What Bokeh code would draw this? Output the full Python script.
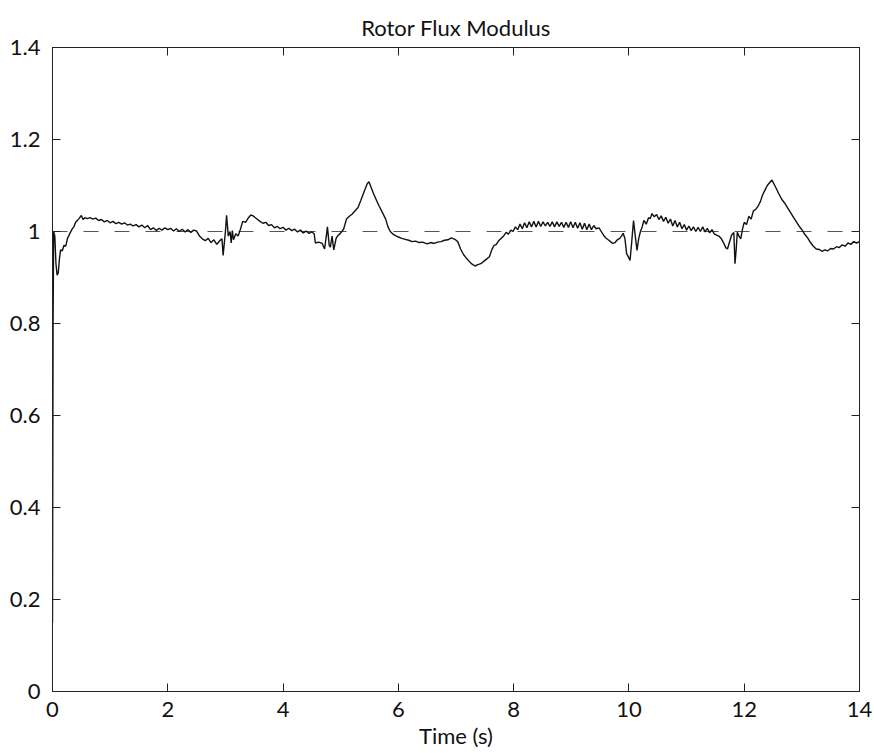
from bokeh.plotting import figure
from bokeh.models import LinearAxis, FixedTicker, Range1d
from bokeh.embed import file_html
from bokeh.resources import INLINE

# ---- data ----
time_s = [
    0.00, 0.01, 0.02, 0.04, 0.06, 0.08, 0.10, 0.12, 0.14, 0.17, 0.20, 0.23, 0.26, 0.28, 0.31, 0.34,
    0.37, 0.40, 0.43, 0.46, 0.50, 0.53, 0.56, 0.60, 0.65, 0.70, 0.75, 0.80, 0.85, 0.90, 0.95, 1.00,
    1.05, 1.10, 1.15, 1.20, 1.25, 1.30, 1.35, 1.40, 1.45, 1.50, 1.55, 1.60, 1.65, 1.70, 1.75, 1.80,
    1.85, 1.90, 1.95, 2.00, 2.05, 2.10, 2.15, 2.20, 2.25, 2.30, 2.35, 2.40, 2.45, 2.50, 2.55, 2.60,
    2.65, 2.70, 2.75, 2.80, 2.85, 2.90, 2.94, 2.96, 3.00, 3.02, 3.05, 3.08, 3.10, 3.12, 3.14, 3.18,
    3.22, 3.26, 3.30, 3.35, 3.40, 3.44, 3.48, 3.52, 3.56, 3.60, 3.65, 3.70, 3.75, 3.80, 3.85, 3.90,
    3.95, 4.00, 4.05, 4.10, 4.15, 4.20, 4.25, 4.30, 4.35, 4.40, 4.45, 4.50, 4.54, 4.56, 4.62, 4.68,
    4.72, 4.75, 4.77, 4.80, 4.82, 4.85, 4.88, 4.92, 4.95, 5.00, 5.05, 5.10, 5.15, 5.20, 5.25, 5.30,
    5.35, 5.40, 5.46, 5.49, 5.53, 5.57, 5.62, 5.66, 5.72, 5.78, 5.82, 5.86, 5.90, 5.95, 6.00, 6.06,
    6.12, 6.18, 6.24, 6.30, 6.36, 6.42, 6.50, 6.56, 6.62, 6.68, 6.74, 6.80, 6.86, 6.92, 6.98, 7.03,
    7.08, 7.13, 7.18, 7.23, 7.28, 7.33, 7.38, 7.43, 7.48, 7.53, 7.58, 7.62, 7.66, 7.70, 7.74, 7.79,
    7.83, 7.87, 7.91, 7.95, 7.99, 8.03, 8.07, 8.11, 8.15, 8.19, 8.23, 8.27, 8.31, 8.35, 8.39, 8.43,
    8.47, 8.51, 8.55, 8.59, 8.63, 8.67, 8.71, 8.75, 8.79, 8.83, 8.87, 8.91, 8.95, 8.99, 9.03, 9.07,
    9.11, 9.15, 9.19, 9.23, 9.27, 9.31, 9.35, 9.39, 9.43, 9.48, 9.52, 9.56, 9.60, 9.64, 9.68, 9.72,
    9.76, 9.80, 9.84, 9.87, 9.90, 9.93, 9.96, 9.99, 10.02, 10.05, 10.08, 10.11, 10.14, 10.17, 10.20, 10.23,
    10.26, 10.30, 10.34, 10.37, 10.40, 10.44, 10.48, 10.52, 10.56, 10.60, 10.64, 10.68, 10.72, 10.76, 10.80, 10.84,
    10.88, 10.92, 10.96, 11.00, 11.04, 11.08, 11.12, 11.16, 11.20, 11.24, 11.28, 11.32, 11.36, 11.40, 11.44, 11.48,
    11.52, 11.56, 11.60, 11.64, 11.68, 11.71, 11.74, 11.78, 11.82, 11.84, 11.86, 11.88, 11.91, 11.94, 11.97, 12.00,
    12.04, 12.08, 12.12, 12.16, 12.20, 12.24, 12.28, 12.32, 12.36, 12.40, 12.44, 12.48, 12.51, 12.55, 12.60, 12.65,
    12.70, 12.75, 12.80, 12.85, 12.90, 12.95, 13.00, 13.05, 13.10, 13.15, 13.20, 13.25, 13.30, 13.35, 13.40, 13.45,
    13.50, 13.55, 13.60, 13.65, 13.70, 13.75, 13.80, 13.85, 13.90, 13.95, 14.00,
]
flux = [
    0.150, 0.800, 1.000, 0.990, 0.930, 0.905, 0.910, 0.940, 0.960, 0.958, 0.970, 0.968, 0.985, 0.990, 0.998, 1.005,
    1.010, 1.020, 1.024, 1.028, 1.035, 1.026, 1.030, 1.028, 1.030, 1.027, 1.029, 1.024, 1.026, 1.021, 1.024, 1.019,
    1.022, 1.017, 1.020, 1.016, 1.019, 1.014, 1.016, 1.012, 1.015, 1.010, 1.014, 1.008, 1.013, 1.004, 1.008, 1.002,
    1.007, 1.003, 1.008, 1.004, 1.007, 1.001, 1.006, 1.000, 1.005, 0.999, 1.004, 0.998, 1.003, 1.001, 0.990, 0.984,
    0.980, 0.985, 0.976, 0.982, 0.972, 0.980, 0.984, 0.948, 1.000, 1.035, 0.990, 1.000, 0.975, 1.002, 0.982, 0.995,
    0.990, 1.005, 1.022, 1.020, 1.030, 1.036, 1.034, 1.030, 1.026, 1.022, 1.018, 1.020, 1.013, 1.015, 1.008, 1.011,
    1.006, 1.009, 1.003, 1.007, 1.002, 1.005, 0.999, 1.003, 0.997, 1.001, 0.996, 0.999, 0.995, 0.975, 0.977, 0.974,
    0.962, 0.990, 1.010, 0.970, 0.966, 0.990, 0.960, 0.985, 0.991, 0.997, 1.005, 1.027, 1.033, 1.038, 1.045, 1.052,
    1.068, 1.085, 1.104, 1.108, 1.095, 1.082, 1.068, 1.057, 1.042, 1.027, 1.010, 1.000, 0.995, 0.991, 0.988, 0.985,
    0.983, 0.981, 0.978, 0.979, 0.976, 0.977, 0.973, 0.976, 0.974, 0.977, 0.978, 0.981, 0.982, 0.986, 0.983, 0.978,
    0.962, 0.950, 0.942, 0.935, 0.929, 0.925, 0.928, 0.930, 0.935, 0.940, 0.945, 0.960, 0.970, 0.972, 0.980, 0.986,
    0.991, 0.998, 0.994, 1.003, 1.000, 1.010, 1.004, 1.016, 1.006, 1.019, 1.008, 1.021, 1.010, 1.022, 1.010, 1.022,
    1.011, 1.021, 1.012, 1.020, 1.011, 1.021, 1.010, 1.021, 1.011, 1.020, 1.009, 1.020, 1.009, 1.021, 1.008, 1.020,
    1.007, 1.019, 1.005, 1.018, 1.004, 1.016, 1.004, 1.013, 1.006, 1.008, 1.000, 0.992, 0.986, 0.982, 0.978, 0.974,
    0.976, 0.982, 0.985, 0.990, 0.996, 0.985, 0.952, 0.945, 0.937, 0.980, 1.024, 0.990, 0.959, 0.985, 1.000, 1.010,
    1.024, 1.016, 1.030, 1.028, 1.039, 1.032, 1.037, 1.026, 1.034, 1.022, 1.031, 1.018, 1.027, 1.012, 1.024, 1.010,
    1.020, 1.006, 1.015, 1.003, 1.012, 1.002, 1.010, 1.000, 1.009, 1.000, 1.010, 0.999, 1.007, 0.997, 1.004, 0.995,
    0.992, 0.990, 0.985, 0.976, 0.965, 0.962, 0.975, 0.992, 0.998, 0.930, 0.960, 0.998, 0.990, 0.984, 1.005, 1.020,
    1.015, 1.033, 1.027, 1.045, 1.048, 1.055, 1.065, 1.080, 1.090, 1.100, 1.106, 1.112, 1.105, 1.095, 1.082, 1.070,
    1.062, 1.052, 1.042, 1.032, 1.022, 1.012, 1.004, 0.994, 0.986, 0.976, 0.968, 0.962, 0.961, 0.957, 0.960, 0.958,
    0.963, 0.962, 0.967, 0.965, 0.971, 0.968, 0.975, 0.972, 0.978, 0.975, 0.978,
]
ref_time = [0, 14]
ref_flux = [1, 1]

x_ticks = [0, 2, 4, 6, 8, 10, 12, 14]
x_tick_labels = ["0", "2", "4", "6", "8", "10", "12", "14"]
y_ticks = [0, 0.2, 0.4, 0.6, 0.8, 1.0, 1.2, 1.4]
y_tick_labels = ["0", "0.2", "0.4", "0.6", "0.8", "1", "1.2", "1.4"]

title_text = "Rotor Flux Modulus"
x_label = "Time (s)"

FONT = "Lato"
FS = "22px"

p = figure(width=874, height=753, output_backend="svg", toolbar_location=None,
           x_range=Range1d(0, 14), y_range=Range1d(0, 1.4),
           min_border_left=52, min_border_right=15, min_border_top=47, min_border_bottom=62,
           title=title_text)
p.title.align = "center"
p.title.text_font = FONT
p.title.text_font_size = FS
p.title.text_font_style = "normal"
p.title.text_color = "#111111"
p.title.standoff = 14

p.xgrid.visible = False
p.ygrid.visible = False
p.outline_line_color = "#222222"
p.outline_line_width = 1
p.background_fill_color = "white"
p.border_fill_color = "white"

xt = FixedTicker(ticks=x_ticks)
yt = FixedTicker(ticks=y_ticks)
x_over = {t: l for t, l in zip(x_ticks, x_tick_labels)}
y_over = {t: l for t, l in zip(y_ticks, y_tick_labels)}

for ax in p.xaxis:
    ax.ticker = xt
    ax.major_label_overrides = x_over
    ax.axis_label = x_label
    ax.axis_label_text_font = FONT
    ax.axis_label_text_font_size = FS
    ax.axis_label_text_font_style = "normal"
    ax.axis_label_standoff = 2
    ax.major_label_standoff = 10

for ax in p.yaxis:
    ax.ticker = yt
    ax.major_label_overrides = y_over
    ax.major_label_standoff = 12

for ax in list(p.xaxis) + list(p.yaxis):
    ax.major_label_text_font = FONT
    ax.major_label_text_font_size = FS
    ax.major_label_text_color = "#111111"
    ax.axis_label_text_color = "#111111"
    ax.major_tick_in = 8
    ax.major_tick_out = 0
    ax.minor_tick_line_color = None
    ax.axis_line_color = "#222222"
    ax.major_tick_line_color = "#222222"

top_ax = LinearAxis(ticker=xt, major_tick_in=8, major_tick_out=0, minor_tick_line_color=None,
                    major_label_text_color=None, major_label_standoff=0,
                    axis_line_color="#222222", major_tick_line_color="#222222")
right_ax = LinearAxis(ticker=yt, major_tick_in=8, major_tick_out=0, minor_tick_line_color=None,
                      major_label_text_color=None, major_label_standoff=0,
                      axis_line_color="#222222", major_tick_line_color="#222222")
p.add_layout(top_ax, "above")
p.add_layout(right_ax, "right")

p.line(ref_time, ref_flux, line_color="#555555", line_width=1, line_dash="15 16")
p.line(time_s, flux, line_color="#111111", line_width=1.4)

open("out.html", "w").write(file_html(p, INLINE))
